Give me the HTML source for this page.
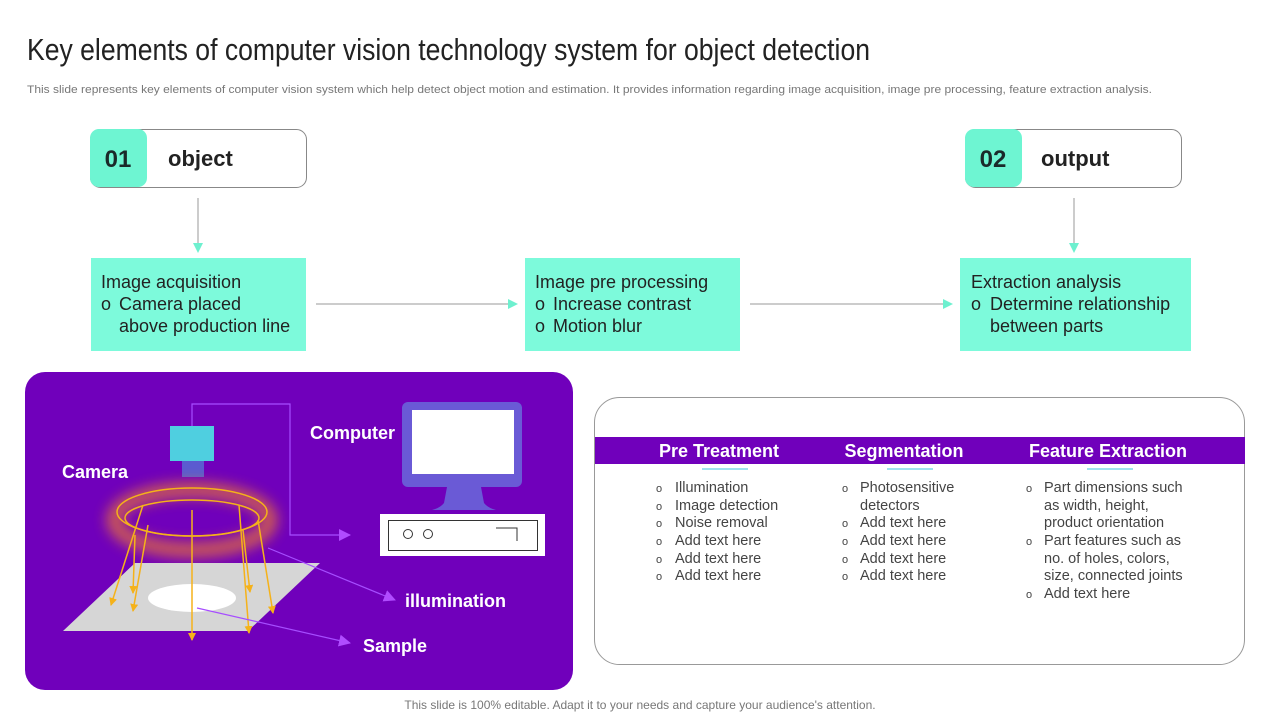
<!DOCTYPE html>
<html><head><meta charset="utf-8"><style>
html,body{margin:0;padding:0;background:#fff;}
svg{display:block;}
</style></head><body>
<svg width="1280" height="720" viewBox="0 0 1280 720" xmlns="http://www.w3.org/2000/svg" font-family="Liberation Sans, sans-serif">
<defs>
<marker id="at" markerWidth="10" markerHeight="10" refX="9" refY="5" orient="auto" markerUnits="userSpaceOnUse"><path d="M0,0 L10,5 L0,10 z" fill="#6ef0cf"/></marker>
<marker id="ap" markerWidth="12" markerHeight="12" refX="11" refY="6" orient="auto" markerUnits="userSpaceOnUse"><path d="M0,0 L12,6 L0,12 z" fill="#b04cff"/></marker>
<marker id="ay" markerWidth="8" markerHeight="8" refX="7" refY="4" orient="auto" markerUnits="userSpaceOnUse"><path d="M0,0 L8,4 L0,8 z" fill="#f5b21a"/></marker>
<filter id="glow" x="-50%" y="-50%" width="200%" height="200%"><feGaussianBlur stdDeviation="7"/></filter>
</defs>
<text x="27" y="60" font-family="Liberation Sans Narrow, Liberation Sans, sans-serif" font-size="31" fill="#222" textLength="843" lengthAdjust="spacingAndGlyphs">Key elements of computer vision technology system for object detection</text>
<text x="27" y="93" font-size="11" fill="#777" textLength="1125" lengthAdjust="spacingAndGlyphs">This slide represents key elements of computer vision system which help detect object motion and estimation. It provides information regarding image acquisition, image pre processing, feature extraction analysis.</text>

<!-- top number boxes -->
<rect x="90.5" y="129.5" width="216" height="58" rx="10" fill="#fff" stroke="#888"/>
<rect x="90" y="129" width="57" height="58" rx="9" fill="#6ef5d2"/>
<text x="118" y="167" font-size="24" font-weight="bold" fill="#1a2a2a" text-anchor="middle">01</text>
<text x="168" y="166" font-size="22" font-weight="bold" fill="#222">object</text>
<rect x="965.5" y="129.5" width="216" height="58" rx="10" fill="#fff" stroke="#888"/>
<rect x="965" y="129" width="57" height="58" rx="9" fill="#6ef5d2"/>
<text x="993" y="167" font-size="24" font-weight="bold" fill="#1a2a2a" text-anchor="middle">02</text>
<text x="1041" y="166" font-size="22" font-weight="bold" fill="#222">output</text>

<line x1="198" y1="198" x2="198" y2="252" stroke="#999" marker-end="url(#at)"/>
<line x1="1074" y1="198" x2="1074" y2="252" stroke="#999" marker-end="url(#at)"/>

<!-- teal boxes -->
<rect x="91" y="258" width="215" height="93" fill="#7dfadb"/>
<rect x="525" y="258" width="215" height="93" fill="#7dfadb"/>
<rect x="960" y="258" width="231" height="93" fill="#7dfadb"/>
<g font-size="18" fill="#222">
<text x="101" y="288">Image acquisition</text>
<text x="101" y="310">o</text><text x="119" y="310">Camera placed</text>
<text x="119" y="332">above production line</text>
<text x="535" y="288">Image pre processing</text>
<text x="535" y="310">o</text><text x="553" y="310">Increase contrast</text>
<text x="535" y="332">o</text><text x="553" y="332">Motion blur</text>
<text x="971" y="288">Extraction analysis</text>
<text x="971" y="310">o</text><text x="990" y="310">Determine relationship</text>
<text x="990" y="332">between parts</text>
</g>
<line x1="316" y1="304" x2="517" y2="304" stroke="#999" marker-end="url(#at)"/>
<line x1="750" y1="304" x2="952" y2="304" stroke="#999" marker-end="url(#at)"/>

<!-- purple panel -->
<rect x="25" y="372" width="548" height="318" rx="20" fill="#7000bb"/>
<polyline points="192,426 192,404 290,404 290,535 350,535" fill="none" stroke="#a64dff" stroke-width="1.2" marker-end="url(#ap)"/>
<rect x="170" y="426" width="44" height="35" fill="#4fcfe0"/>
<rect x="182" y="461" width="22" height="16" fill="#5b5bd0"/>
<ellipse cx="192" cy="520" rx="78" ry="30" fill="none" stroke="#ff8c1a" stroke-width="14" opacity="0.7" filter="url(#glow)"/>
<polygon points="63,631 248,631 320,563 135,563" fill="#d6d6d6"/>
<ellipse cx="192" cy="598" rx="44" ry="14" fill="#fff"/>
<ellipse cx="192" cy="512" rx="75" ry="24" fill="none" stroke="#f5b21a" stroke-width="1.5"/>
<ellipse cx="192" cy="518" rx="67" ry="18" fill="none" stroke="#f5b21a" stroke-width="1.5"/>
<g stroke="#f5b21a" stroke-width="1.5" marker-end="url(#ay)">
<line x1="143" y1="505" x2="111" y2="605"/>
<line x1="148" y1="525" x2="133" y2="611"/>
<line x1="135" y1="535" x2="133" y2="593"/>
<line x1="192" y1="510" x2="192" y2="640"/>
<line x1="239" y1="505" x2="249" y2="633"/>
<line x1="243" y1="530" x2="250" y2="592"/>
<line x1="258" y1="520" x2="273" y2="613"/>
</g>
<line x1="268" y1="548" x2="395" y2="600" stroke="#a64dff" stroke-width="1.2" marker-end="url(#ap)"/>
<line x1="197" y1="608" x2="350" y2="643" stroke="#a64dff" stroke-width="1.2" marker-end="url(#ap)"/>
<!-- computer -->
<rect x="402" y="402" width="120" height="85" rx="6" fill="#6a5ad6"/>
<rect x="412" y="410" width="102" height="64" fill="#fff"/>
<circle cx="464" cy="495" r="2.5" fill="#7000bb"/>
<path d="M447,487 L481,487 L484,503 Q488,508 496,510 L432,510 Q440,508 444,503 Z" fill="#6a5ad6"/>
<rect x="380" y="514" width="165" height="42" fill="#fff"/>
<rect x="388.5" y="520.5" width="149" height="30" fill="none" stroke="#333"/>
<circle cx="408" cy="534" r="4.5" fill="none" stroke="#333"/>
<circle cx="428" cy="534" r="4.5" fill="none" stroke="#333"/>
<polyline points="496,528 517,528 517,541" fill="none" stroke="#333"/>
<g font-size="18" font-weight="bold" fill="#fff">
<text x="62" y="478">Camera</text>
<text x="310" y="439">Computer</text>
<text x="405" y="607">illumination</text>
<text x="363" y="652">Sample</text>
</g>

<!-- right panel -->
<rect x="594.5" y="397.5" width="650" height="267" rx="25" fill="#fff" stroke="#999"/>
<rect x="595" y="437" width="650" height="27" fill="#7000bb"/>
<g font-size="18" font-weight="bold" fill="#fff" text-anchor="middle">
<text x="719" y="457">Pre Treatment</text>
<text x="904" y="457">Segmentation</text>
<text x="1108" y="457">Feature Extraction</text>
</g>
<g stroke="#7fd8e8" stroke-width="1.5">
<line x1="702" y1="469" x2="748" y2="469"/>
<line x1="887" y1="469" x2="933" y2="469"/>
<line x1="1087" y1="469" x2="1133" y2="469"/>
</g>
<g font-size="14.5" fill="#444">
<g font-size="11"><text x="656" y="492">o</text><text x="656" y="510">o</text><text x="656" y="527">o</text><text x="656" y="545">o</text><text x="656" y="563">o</text><text x="656" y="580">o</text>
<text x="842" y="492">o</text><text x="842" y="527">o</text><text x="842" y="545">o</text><text x="842" y="563">o</text><text x="842" y="580">o</text>
<text x="1026" y="492">o</text><text x="1026" y="545">o</text><text x="1026" y="598">o</text></g>
<text x="675" y="492">Illumination</text>
<text x="675" y="510">Image detection</text>
<text x="675" y="527">Noise removal</text>
<text x="675" y="545">Add text here</text>
<text x="675" y="563">Add text here</text>
<text x="675" y="580">Add text here</text>
<text x="860" y="492">Photosensitive</text>
<text x="860" y="510">detectors</text>
<text x="860" y="527">Add text here</text>
<text x="860" y="545">Add text here</text>
<text x="860" y="563">Add text here</text>
<text x="860" y="580">Add text here</text>
<text x="1044" y="492">Part dimensions such</text>
<text x="1044" y="510">as width, height,</text>
<text x="1044" y="527">product orientation</text>
<text x="1044" y="545">Part features such as</text>
<text x="1044" y="563">no. of holes, colors,</text>
<text x="1044" y="580">size, connected joints</text>
<text x="1044" y="598">Add text here</text>
</g>
<text x="640" y="709" font-size="12" fill="#777" text-anchor="middle">This slide is 100% editable. Adapt it to your needs and capture your audience's attention.</text>
</svg>
</body></html>
